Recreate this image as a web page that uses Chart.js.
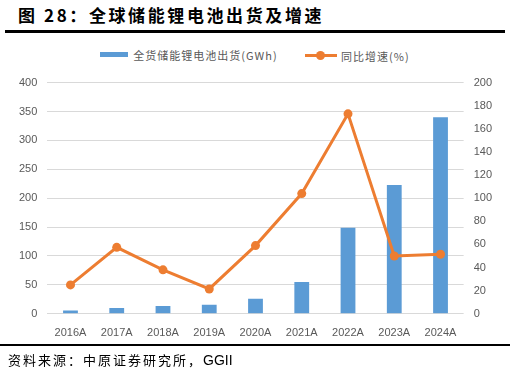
<!DOCTYPE html>
<html>
<head>
<meta charset="utf-8">
<script src="https://cdn.jsdelivr.net/npm/chart.js@4/dist/chart.umd.min.js"></script>
<style>
  html, body { margin: 0; padding: 0; background: #fff; }
  body { width: 510px; height: 378px; position: relative; overflow: hidden; font-family: "Noto Sans CJK SC", sans-serif; }
  #title { position: absolute; left: 18px; top: 2px; font-size: 17px; font-weight: bold; color: #000; letter-spacing: 2.6px; }
  #rule1 { position: absolute; left: 5px; width: 500px; top: 30px; height: 3px; background: #000; }
  #legend { position: absolute; top: 44px; left: 0; width: 510px; text-align: center; font-size: 11px; color: #595959; letter-spacing: 1px; }
  #legend span.item { display: inline-flex; align-items: center; margin: 0 12px; }
  .sw-bar { display: inline-block; width: 28px; height: 5px; background: #5B9BD5; margin-right: 5px; }
  .sw-line { display: inline-block; position: relative; width: 32px; height: 3px; background: #ED7D31; margin-right: 4px; }
  .sw-line::after { content: ""; position: absolute; left: 11px; top: -3px; width: 9px; height: 9px; border-radius: 50%; background: #ED7D31; }
  #wrap { position: absolute; left: 0; top: 66px; width: 510px; height: 279px; }
  #rule2 { position: absolute; left: 0; width: 510px; top: 344px; height: 2px; background: #000; }
  #source { position: absolute; left: 8px; top: 350px; font-size: 13px; color: #000; letter-spacing: 2px; }
  #source span { letter-spacing: 0; font-family: "Liberation Sans", Arial, sans-serif; font-size: 14px; }
</style>
</head>
<body>
<div id="title">图 28：全球储能锂电池出货及增速</div>
<div id="rule1"></div>
<div id="legend">
  <span class="item"><span class="sw-bar"></span>全货储能锂电池出货(GWh)</span>
  <span class="item"><span class="sw-line"></span>同比增速(%)</span>
</div>
<div id="wrap"><canvas id="chart"></canvas></div>
<div id="rule2"></div>
<div id="source">资料来源：中原证券研究所，<span>GGII</span></div>
<script>
const years = ['2016A', '2017A', '2018A', '2019A', '2020A', '2021A', '2022A', '2023A', '2024A'];
const shipments = [5.7, 10, 13.7, 15.5, 26, 55, 149, 223, 340];
const growth = [25, 57.5, 38, 21.5, 59, 104, 173, 50, 51.5];
const leftTicks = [0, 50, 100, 150, 200, 250, 300, 350, 400];
const rightTicks = [0, 20, 40, 60, 80, 100, 120, 140, 160, 180, 200];

const tickFont = { family: '"Liberation Sans", Arial, sans-serif', size: 11 };
const tickColor = '#595959';

new Chart(document.getElementById('chart'), {
  data: {
    labels: years,
    datasets: [
      { type: 'line', label: '同比增速(%)', data: growth, yAxisID: 'y2', borderColor: '#ED7D31', backgroundColor: '#ED7D31',
        borderWidth: 3, pointRadius: 4.5, pointBackgroundColor: '#ED7D31', pointBorderWidth: 0, tension: 0, order: 0 },
      { type: 'bar', label: '全货储能锂电池出货(GWh)', data: shipments, yAxisID: 'y', backgroundColor: '#5B9BD5',
        barPercentage: 0.32, categoryPercentage: 1, order: 1 }
    ]
  },
  options: {
    responsive: true,
    maintainAspectRatio: false,
    animation: false,
    layout: { padding: { top: 7, left: 9, right: 8, bottom: 0 } },
    plugins: { legend: { display: false }, tooltip: { enabled: false } },
    scales: {
      x: {
        grid: { display: false },
        border: { display: false },
        ticks: { color: tickColor, font: tickFont, padding: 5, maxRotation: 0 }
      },
      y: {
        min: 0, max: 400,
        afterBuildTicks: axis => { axis.ticks = leftTicks.map(v => ({ value: v })); },
        grid: { color: '#d9d9d9', lineWidth: 1, drawTicks: false },
        border: { display: false },
        ticks: { color: tickColor, font: tickFont, padding: 10 }
      },
      y2: {
        position: 'right',
        min: 0, max: 200,
        afterBuildTicks: axis => { axis.ticks = rightTicks.map(v => ({ value: v })); },
        grid: { drawOnChartArea: false, drawTicks: false },
        border: { display: false },
        ticks: { color: tickColor, font: tickFont, padding: 10 }
      }
    }
  }
});
</script>
</body>
</html>
